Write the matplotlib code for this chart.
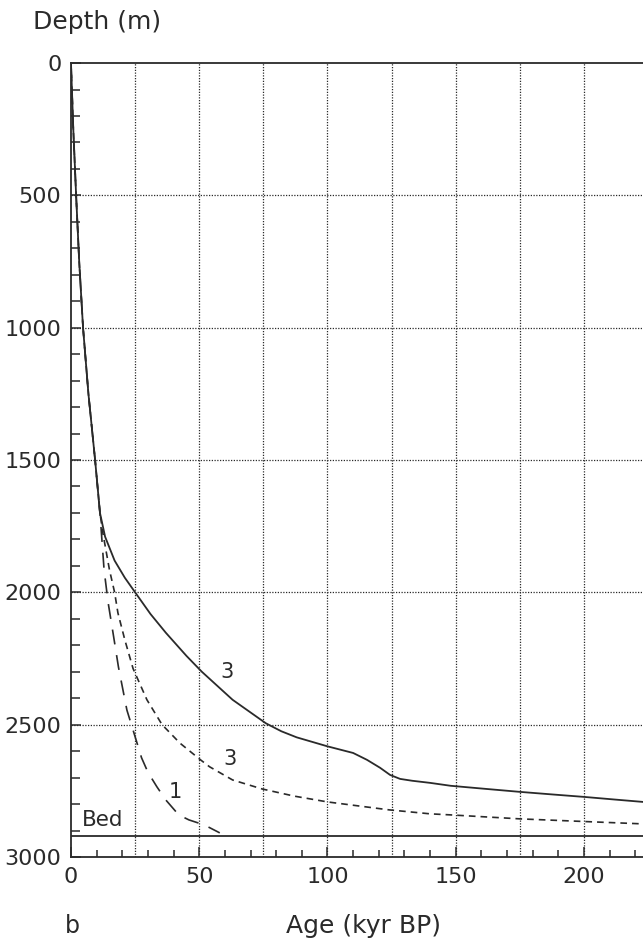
import numpy as np
import matplotlib
matplotlib.use("Agg")
import matplotlib.pyplot as plt

### DATA

# curve 3, solid line
age_solid = [0, 0.9, 2.0, 3.2, 4.7, 6.8, 9.4, 11.3, 13.3, 17, 21, 25, 31, 37, 45, 51,
             63, 76, 82, 88, 100, 110, 115.4, 120.5, 124.4, 128.3, 133, 140, 148, 162,
             175, 188, 200, 212, 223]
depth_solid = [0, 250, 500, 750, 1000, 1250, 1500, 1700, 1790, 1880, 1945, 2000, 2082,
               2153, 2240, 2300, 2406, 2495, 2525, 2548, 2582, 2607, 2633, 2663, 2690,
               2705, 2712, 2720, 2731, 2743, 2754, 2764, 2773, 2783, 2792]

# curve 3, short dashes
age_dash3 = [0, 0.9, 2.0, 3.2, 4.7, 6.8, 9.4, 11.3, 12.5, 15, 17, 18.3, 21, 24.2, 29.6,
             35.5, 42.5, 50.5, 54, 63, 74.5, 87, 100, 124, 140, 148, 175, 200, 223]
depth_dash3 = [0, 250, 500, 750, 1000, 1250, 1500, 1700, 1780, 1915, 2000, 2078, 2180,
               2288, 2406, 2500, 2570, 2633, 2659, 2709, 2743, 2770, 2792, 2822, 2837,
               2841, 2856, 2866, 2875]

# curve 1, long dashes
age_dash1 = [0, 0.9, 2.0, 3.2, 4.7, 6.8, 9.4, 11.3, 12.9, 14.5, 16.5, 18.5, 21.8, 24.5,
             27.5, 30, 33.5, 37, 42, 46, 52, 58]
depth_dash1 = [0, 250, 500, 750, 1000, 1250, 1500, 1700, 1915, 2040, 2160, 2282, 2445,
               2530, 2625, 2680, 2735, 2785, 2841, 2860, 2879, 2909]

bed_depth = 2920

# curve labels: (text, age, depth)
curve_labels = [("3", 61, 2300), ("3", 62, 2630), ("1", 40.5, 2754)]

x_ticks = [0, 50, 100, 150, 200]
y_ticks = [0, 500, 1000, 1500, 2000, 2500, 3000]

### PLOT

plt.rcParams['font.family'] = ['DejaVu Sans']
ink = '#2a2a2a'

fig = plt.figure(figsize=(6.43, 9.41), dpi=100)
ax = fig.add_axes([0.1104, 0.0893, 0.8896, 0.8437])

# dotted grid
for xg in np.arange(25, 225, 25):
    ax.axvline(xg, color=ink, lw=0.9, ls=(0, (1, 1.2)), zorder=1)
for yg in np.arange(500, 3000, 500):
    ax.axhline(yg, color=ink, lw=0.9, ls=(0, (1, 1.2)), zorder=1)

ax.plot(age_solid, depth_solid, color=ink, lw=1.3, zorder=3)
ax.plot(age_dash3, depth_dash3, color=ink, lw=1.2, ls=(0, (4, 3)), zorder=3)
ax.plot(age_dash1, depth_dash1, color=ink, lw=1.2, ls=(0, (9, 6.5)), zorder=3)

# bed
ax.axhline(bed_depth, color=ink, lw=1.3, zorder=3)
ax.text(4.3, bed_depth - 22, "Bed", fontsize=15.5, color=ink, ha='left', va='bottom')

for txt, xa, yd in curve_labels:
    ax.text(xa, yd, txt, fontsize=15, color=ink, ha='center', va='center')

ax.set_xlim(0, 223)
ax.set_ylim(3000, 0)

ax.set_xticks(x_ticks)
ax.set_xticks(np.arange(10, 223, 10), minor=True)
ax.set_yticks(y_ticks)
ax.set_yticks(np.arange(100, 3000, 100), minor=True)

ax.tick_params(which='both', direction='in', color=ink, width=1.1,
               labelsize=16, labelcolor=ink, top=False, right=False)
ax.tick_params(which='major', length=7, pad=7)
ax.tick_params(which='minor', length=6.5)
ax.tick_params(axis='x', which='minor', length=5)

for side in ['left', 'bottom', 'top']:
    ax.spines[side].set_color(ink)
    ax.spines[side].set_linewidth(1.3)
ax.spines['right'].set_visible(False)

fig.text(0.052, 0.977, "Depth (m)", fontsize=18, color=ink, ha='left', va='center')
fig.text(0.566, 0.016, "Age (kyr BP)", fontsize=18, color=ink, ha='center', va='center')
fig.text(0.112, 0.016, "b", fontsize=17, color=ink, ha='center', va='center')

fig.savefig("out.png", dpi=100)
